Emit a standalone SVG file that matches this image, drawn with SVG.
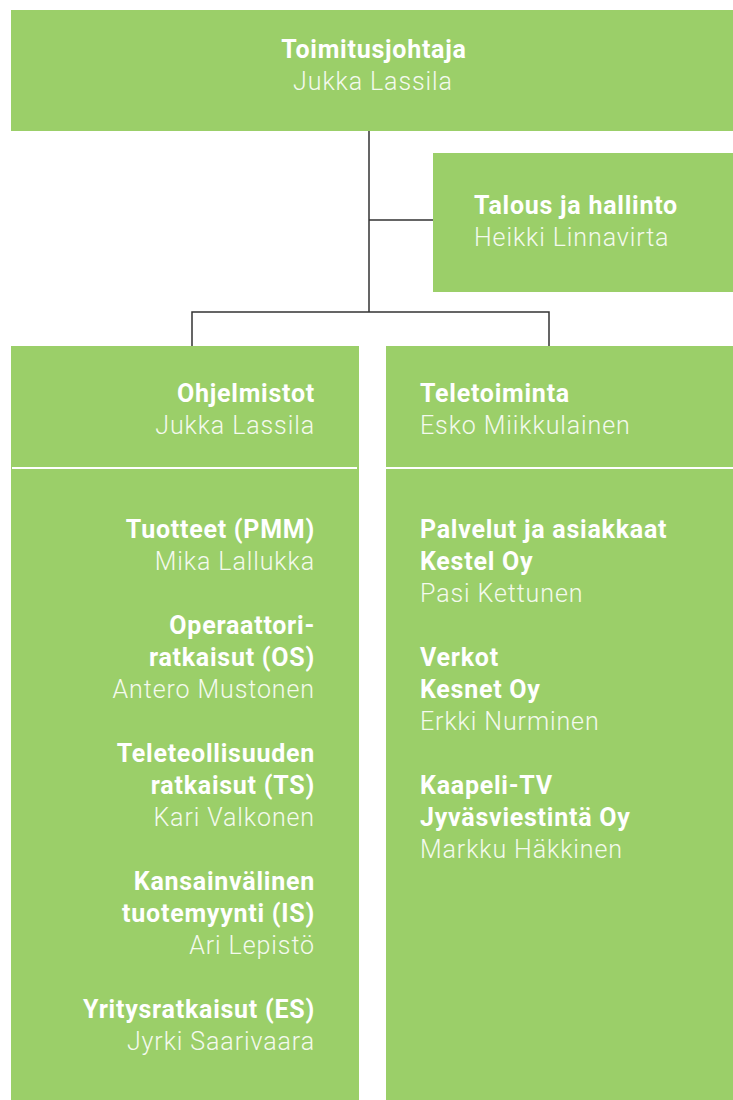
<svg xmlns="http://www.w3.org/2000/svg" width="733" height="1100" viewBox="0 0 733 1100">
<style>
.box{fill:#9bcf69}
.t{font-family:Roboto,"Liberation Sans",sans-serif;font-size:25px;font-weight:700;fill:#ffffff;letter-spacing:0.75px}
.n{font-family:Roboto,"Liberation Sans",sans-serif;font-size:25px;font-weight:300;fill:#f4faee;letter-spacing:0.9px}
.sep{stroke:#ffffff;stroke-width:2}
.c{stroke:#333333;stroke-width:1.5;fill:none}
</style>
<rect width="733" height="1100" fill="#ffffff"/>
<g id="connectors">
<path class="c" d="M369 130V312M369 220H433M192 346V312H549V346"/>
</g>
<g id="ceo">
<rect class="box" x="11" y="10" width="722" height="121"/>
<text class="t" x="374" y="58" text-anchor="middle">Toimitusjohtaja</text>
<text class="n" x="373" y="90" text-anchor="middle">Jukka Lassila</text>
</g>
<g id="talous">
<rect class="box" x="433" y="153" width="300" height="139"/>
<text class="t" x="474" y="214">Talous ja hallinto</text>
<text class="n" x="474" y="246">Heikki Linnavirta</text>
</g>
<g id="ohjelmistot">
<rect class="box" x="11" y="346" width="348" height="754"/>
<line class="sep" x1="12" y1="468" x2="357" y2="468"/>
<g text-anchor="end">
<text class="t" x="315" y="402">Ohjelmistot</text>
<text class="n" x="315" y="434">Jukka Lassila</text>
<text class="t" x="315" y="538">Tuotteet (PMM)</text>
<text class="n" x="315" y="570">Mika Lallukka</text>
<text class="t" x="315" y="634">Operaattori-</text>
<text class="t" x="315" y="666">ratkaisut (OS)</text>
<text class="n" x="315" y="698">Antero Mustonen</text>
<text class="t" x="315" y="762">Teleteollisuuden</text>
<text class="t" x="315" y="794">ratkaisut (TS)</text>
<text class="n" x="315" y="826">Kari Valkonen</text>
<text class="t" x="315" y="890">Kansainvälinen</text>
<text class="t" x="315" y="922">tuotemyynti (IS)</text>
<text class="n" x="315" y="954">Ari Lepistö</text>
<text class="t" x="315" y="1018">Yritysratkaisut (ES)</text>
<text class="n" x="315" y="1050">Jyrki Saarivaara</text>
</g>
</g>
<g id="teletoiminta">
<rect class="box" x="386" y="346" width="347" height="754"/>
<line class="sep" x1="386" y1="468" x2="733" y2="468"/>
<text class="t" x="420" y="402">Teletoiminta</text>
<text class="n" x="420" y="434">Esko Miikkulainen</text>
<text class="t" x="420" y="538">Palvelut ja asiakkaat</text>
<text class="t" x="420" y="570">Kestel Oy</text>
<text class="n" x="420" y="602">Pasi Kettunen</text>
<text class="t" x="420" y="666">Verkot</text>
<text class="t" x="420" y="698">Kesnet Oy</text>
<text class="n" x="420" y="730">Erkki Nurminen</text>
<text class="t" x="420" y="794">Kaapeli-TV</text>
<text class="t" x="420" y="826">Jyväsviestintä Oy</text>
<text class="n" x="420" y="858">Markku Häkkinen</text>
</g>
</svg>
